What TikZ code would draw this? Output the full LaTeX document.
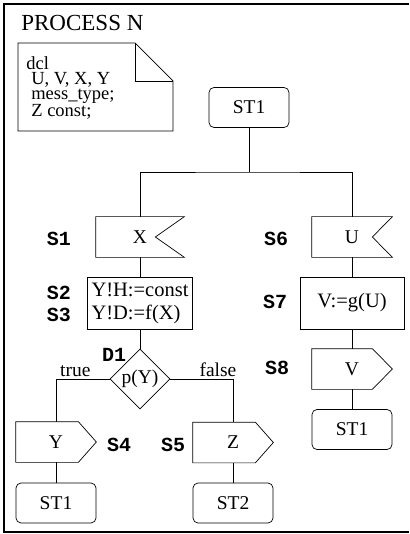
\documentclass[tikz,border=0pt]{standalone}
\usepackage{fontspec}
\setmainfont{Liberation Serif}
\newfontfamily\labfont{Liberation Mono}
\usetikzlibrary{shapes.geometric}

% outline of an input (notched) and an output (pointed) signal box
\newcommand\sigin[2]{\draw (#1.north west) -- (#1.north east) -- ([xshift=-#2]#1.east) -- (#1.south east) -- (#1.south west) -- cycle;}
\newcommand\sigout[2]{\draw (#1.north west) -- ([xshift=-#2]#1.north east) -- (#1.east) -- ([xshift=-#2]#1.south east) -- (#1.south west) -- cycle;}

\begin{document}
\begin{tikzpicture}[x=1pt, y=-1pt, line width=0.7pt,
    state/.style={draw, rounded corners=5pt, minimum width=80pt, minimum height=40pt, font=\fontsize{19.5}{22}\selectfont},
    sig/.style={minimum width=80pt, minimum height=40pt, font=\fontsize{19.5}{22}\selectfont},
    task/.style={draw, minimum height=52pt, align=left, inner sep=2pt, font=\fontsize{20.5}{23}\selectfont},
    decision/.style={draw, diamond, aspect=1, minimum size=60pt, inner sep=0pt, font=\fontsize{19.5}{22}\selectfont},
    lab/.style={font=\fontsize{20}{22}\labfont\bfseries},
    branch/.style={font=\fontsize{19.5}{22}\selectfont, inner sep=2pt}]

\useasboundingbox (0,0) rectangle (409,534);
\draw[line width=1.2pt] (409,4) -- (4,4) -- (4,532) -- (409,532);

\node[anchor=base west, inner sep=0pt, font=\fontsize{23}{26}\selectfont] (title) at (21,31) {PROCESS N};
\draw (18,43) -- (135,43) -- (173,81) -- (173,131) -- (18,131) -- cycle;
\draw (135,43) -- (135,81) -- (173,81);
\node[anchor=north west, inner sep=0pt, align=left, font=\fontsize{18.5}{15.3}\selectfont] (decl) at (26,56)
    {dcl\\\hspace*{5pt}U, V, X, Y\\\hspace*{5pt}mess\_type;\\\hspace*{5pt}Z const;};

\node[state] (st0) at (249,107.5) {ST1};
\coordinate (fork) at (249,172);

\node[sig, minimum width=88pt] (inX) at (140,237) {X};
\node[task, minimum width=105pt] (setY) at (140,303) {Y!H:=const\\Y!D:=f(X)};
\node[decision] (testY) at (140,379) {p(Y)};
\node[sig] (outY) at (56,442) {Y};
\node[state] (st1a) at (56,503) {ST1};
\node[sig] (outZ) at (233,442.5) {Z};
\node[state] (st2) at (233,503) {ST2};

\node[sig] (inU) at (352,237) {U};
\node[task, minimum width=104pt] (setV) at (352,303) {V:=g(U)};
\node[sig] (outV) at (352,369) {V};
\node[state] (st1b) at (352,429.5) {ST1};

\sigin{inX}{29pt}
\sigin{inU}{20pt}
\sigout{outY}{18pt}
\sigout{outZ}{18pt}
\sigout{outV}{20pt}

\node[lab] (s1) at (59,239) {S1};
\node[lab] (s2) at (59,293) {S2};
\node[lab] (s3) at (59,315) {S3};
\node[lab] (d1) at (114,355) {D1};
\node[lab] (s4) at (119,445) {S4};
\node[lab] (s5) at (173,445) {S5};
\node[lab] (s6) at (276,239) {S6};
\node[lab] (s7) at (275,302) {S7};
\node[lab] (s8) at (277,368) {S8};

\draw (st0) -- (fork);
\draw (inX.north) |- (fork) -| (inU.north);
\draw (inX) -- (setY);
\draw (setY) -- (testY);
\draw (testY.west) -| node[branch, pos=0.32, above] (yes) {true} (outY.north);
\draw (testY.east) -| node[branch, pos=0.38, above] (no) {false} (outZ.north);
\draw (outY) -- (st1a);
\draw (outZ) -- (st2);
\draw (inU) -- (setV);
\draw (setV) -- (outV);
\draw (outV) -- (st1b);
\end{tikzpicture}
\end{document}
